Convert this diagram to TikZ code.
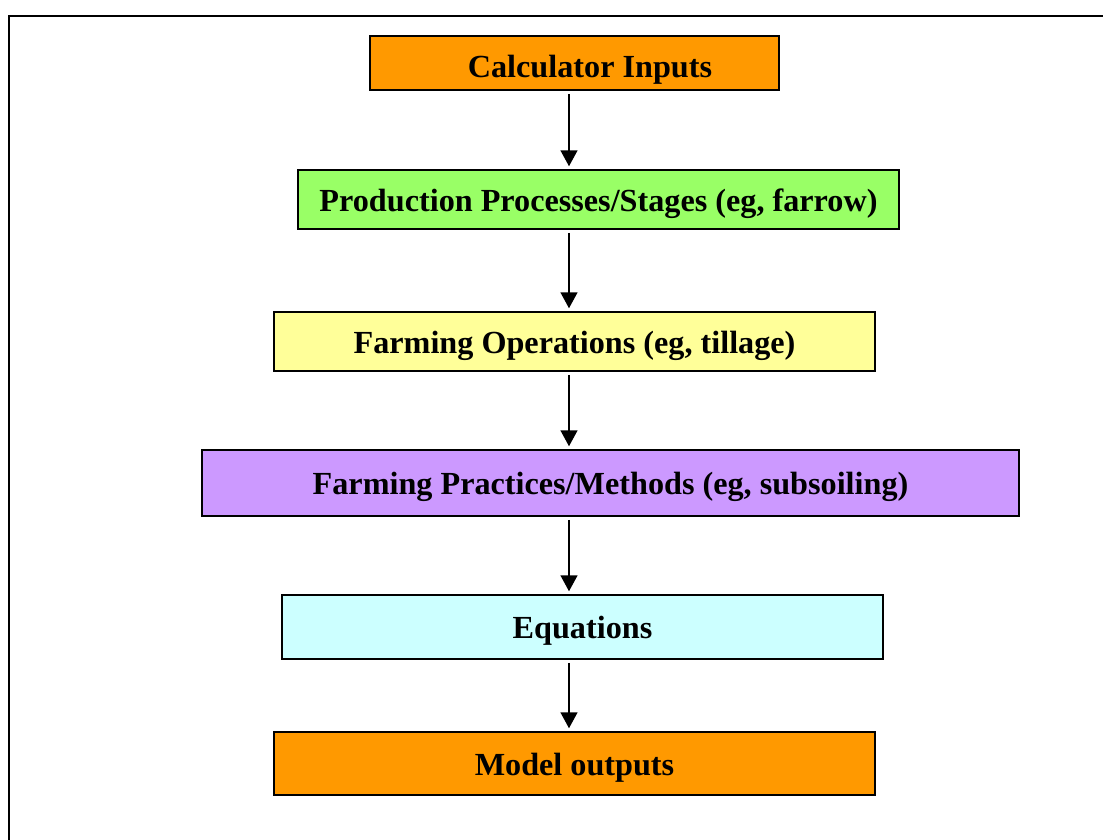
\documentclass[tikz,border=0pt]{standalone}
\usepackage{fontspec}
\setmainfont{Liberation Serif}
\usetikzlibrary{positioning, arrows.meta, calc}
\usepackage{xcolor}
\definecolor{boxorange}{HTML}{FF9900}
\definecolor{boxgreen}{HTML}{99FF66}
\definecolor{boxyellow}{HTML}{FFFF99}
\definecolor{boxpurple}{HTML}{CC99FF}
\definecolor{boxcyan}{HTML}{CCFFFF}

\begin{document}
\begin{tikzpicture}[x=1pt, y=-1pt,
    stage/.style={draw, line width=1.5pt, inner sep=0pt, text height=26pt, text depth=3pt, font=\fontsize{32.2}{36}\selectfont\bfseries},
    flow/.style={-{Triangle[length=16pt, width=17pt]}, line width=1.5pt, shorten <=3pt, shorten >=3pt}]
  \useasboundingbox (0,0) rectangle (1103,839);
  \draw[line width=1.5pt] (9,860) -- (9,16) -- (1120,16);
  \coordinate (axis) at (569,0);

  \node[stage, fill=boxorange, minimum width=409pt, minimum height=54pt] (inputs) at (574.5,63) {};
  \node[font=\fontsize{32.2}{36}\selectfont\bfseries, anchor=base, inner sep=0pt] (inputslabel) at (590,77) {Calculator Inputs};
  \node[stage, fill=boxgreen, minimum width=601pt, minimum height=59pt] (stages) at (598.5,199.5) {Production Processes/Stages (eg, farrow)};
  \node[stage, fill=boxyellow, minimum width=601pt, minimum height=59pt] (operations) at (574.5,341.5) {Farming Operations (eg, tillage)};
  \node[stage, fill=boxpurple, minimum width=817pt, minimum height=66pt] (practices) at (610.5,483) {Farming Practices/Methods (eg, subsoiling)};
  \node[stage, fill=boxcyan, minimum width=601pt, minimum height=64pt] (equations) at (582.5,627) {Equations};
  \node[stage, fill=boxorange, minimum width=601pt, minimum height=63pt] (outputs) at (574.5,763.5) {Model outputs};

  \draw[flow] (inputs.south -| axis) -- (stages.north -| axis);
  \draw[flow] (stages.south -| axis) -- (operations.north -| axis);
  \draw[flow] (operations.south -| axis) -- (practices.north -| axis);
  \draw[flow] (practices.south -| axis) -- (equations.north -| axis);
  \draw[flow] (equations.south -| axis) -- (outputs.north -| axis);
\end{tikzpicture}
\end{document}
